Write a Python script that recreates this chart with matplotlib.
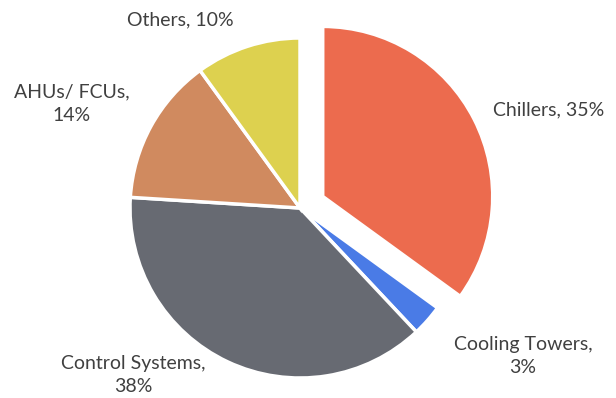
import matplotlib
matplotlib.use("Agg")
import matplotlib.pyplot as plt

# share of energy use by component
categories = ["Chillers", "Cooling Towers", "Control Systems", "AHUs/ FCUs", "Others"]
shares = [35, 3, 38, 14, 10]
colors = ["#EC6B4E", "#4A7BE6", "#676A72", "#D08A5F", "#DDD14F"]
explode = [0.15, 0, 0, 0, 0]   # fraction of radius

# label text and where each sits (pixel coords, y measured from top)
label_text = ["Chillers, 35%", "Cooling Towers,\n3%", "Control Systems,\n38%",
              "AHUs/ FCUs,\n14%", "Others, 10%"]
label_pos = [(549, 110), (523, 356), (133, 375), (72, 104), (180, 20)]

W, H = 616, 398
fig = plt.figure(figsize=(W / 100, H / 100), dpi=100)
ax = fig.add_axes([0, 0, 1, 1])

cx, cy, r = 300, H - 208, 170
# pie's explode offset is in data units, so scale by the radius
ax.pie(shares, colors=colors, explode=[e * r for e in explode], startangle=90,
       counterclock=False, center=(cx, cy), radius=r, frame=True,
       wedgeprops=dict(edgecolor="white", linewidth=2.5))
ax.set_xlim(0, W)
ax.set_ylim(0, H)
ax.set_aspect("equal")
ax.axis("off")

for txt, (x, y) in zip(label_text, label_pos):
    ax.text(x, H - y, txt, ha="center", va="center", fontsize=14,
            color="#404040", family="Lato", linespacing=1.45)

fig.savefig("out.png", dpi=100)
